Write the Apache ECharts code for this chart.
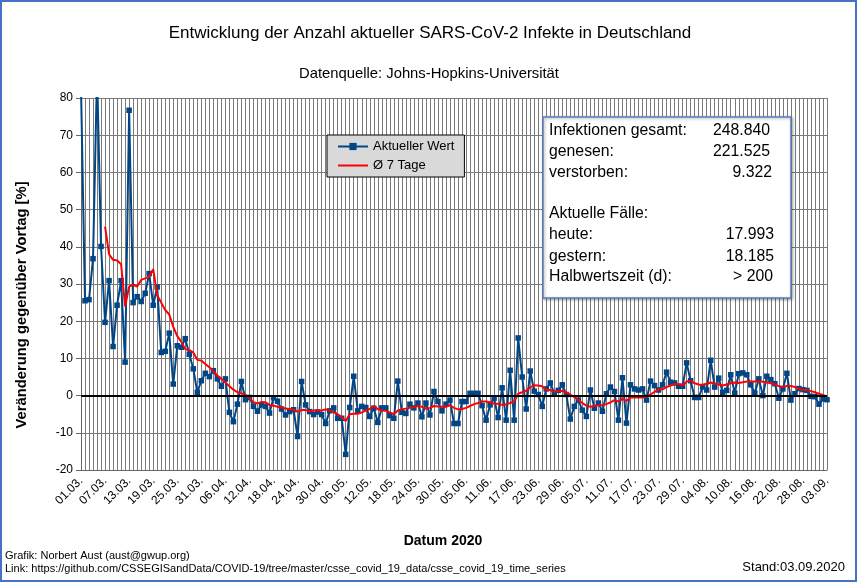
<!DOCTYPE html>
<html>
<head>
<meta charset="utf-8">
<script src="https://cdn.jsdelivr.net/npm/echarts@6/dist/echarts.min.js"></script>
<style>
html,body{margin:0;padding:0;background:#fff;}
#c{width:858px;height:583px;}
</style>
</head>
<body>
<div id="c"></div>
<script>
// ---- data ----
const startDay = { year: 2020, month: 2, day: 1 }; // 01.03.2020 (month 0-based)
const dayCount = 187;

const aktuellerWert = [
  83, 25.5, 25.8, 36.8, 87, 40.1, 19.7, 30.9, 13.2, 24.3,
  30.9, 9.0, 76.7, 25.0, 26.6, 25.3, 27.5, 32.8, 24.3, 29.2,
  11.6, 11.9, 16.8, 3.1, 13.4, 13.0, 15.3, 11.1, 7.2, 0.9,
  4.0, 6.0, 5.1, 6.7, 4.5, 2.5, 4.5, -4.5, -7.0, -2.3,
  3.8, -1.1, -0.5, -2.9, -4.2, -2.5, -2.9, -4.7, -0.6, -1.5,
  -3.6, -5.2, -4.3, -3.8, -11.0, 3.8, -2.5, -4.3, -5.1, -4.4,
  -5.1, -7.5, -4.1, -3.3, -6.1, -6.1, -15.8, -3.2, 5.2, -4.1,
  -2.9, -3.2, -5.6, -3.4, -7.2, -3.3, -3.3, -5.4, -6.1, 3.9,
  -4.5, -4.8, -2.3, -3.3, -2.0, -5.7, -2.0, -5.2, 1.1, -1.6,
  -4.1, -2.3, -1.2, -7.5, -7.5, -1.6, -1.6, 0.6, 0.6, 0.6,
  -2.7, -6.6, -2.5, -0.7, -5.9, 2.1, -6.6, 6.8, -6.6, 15.5,
  5.0, -3.6, 6.6, 1.2, 0.3, -2.9, 1.8, 3.4, 0.6, 1.4,
  2.9, 0.3, -6.3, -2.9, -1.2, -3.9, -5.6, 1.5, -3.4, -2.0,
  -4.2, 0.5, 2.3, 1.1, -6.6, 4.8, -7.4, 2.9, 1.8, 1.5,
  1.8, -1.2, 3.9, 2.7, 1.5, 2.9, 6.3, 3.6, 3.4, 2.5,
  2.5, 8.8, 4.0, -0.5, -0.5, 2.3, 1.5, 9.5, 2.3, 4.7,
  0.9, 1.4, 5.6, 0.7, 5.9, 6.1, 5.6, 2.9, 0.7, 4.5,
  0.0, 5.2, 4.3, 3.2, -0.7, 1.8, 6.0, -1.2, 0.5, 1.9,
  1.6, 1.4, -0.2, -0.3, -2.3, -0.9, -1.1
];

const mittel7Tage = [
  '-', '-', '-', '-', '-', '-', 45.4, 38.0, 36.5, 36.3,
  35.3, 24.0, 29.3, 29.8, 29.3, 31.1, 31.5, 32.0, 34.0, 27.0,
  25.0, 23.0, 21.8, 18.5, 16.0, 14.5, 12.5, 12.2, 11.6, 9.6,
  9.4, 8.5, 7.6, 6.6, 5.4, 4.5, 3.5, 2.5, 1.6, 0.9,
  0.6, 0.2, -0.6, -1.8, -2.1, -1.7, -1.8, -2.5, -2.7, -3.0,
  -3.2, -3.5, -3.6, -3.8, -4.3, -3.9, -3.9, -4.2, -4.0, -4.0,
  -4.0, -3.7, -4.0, -4.5, -5.0, -5.8, -6.8, -5.0, -4.9, -4.9,
  -4.5, -4.0, -3.6, -2.8, -3.6, -4.0, -4.1, -4.5, -5.0, -4.0,
  -3.7, -3.5, -3.3, -3.0, -2.8, -3.0, -3.5, -3.3, -2.8, -2.9,
  -3.0, -3.0, -2.6, -3.3, -3.7, -3.6, -3.3, -2.8, -2.3, -2.0,
  -1.6, -1.6, -1.8, -2.2, -2.2, -2.5, -2.3, -2.0, -1.6, 0.5,
  0.9, 1.3, 2.2, 2.8, 2.7, 2.5, 1.5, 1.5, 1.0, 1.2,
  1.3, 0.8, 0.3, -0.4, -1.2, -2.0, -2.7, -3.0, -2.8, -2.6,
  -2.6, -2.3, -1.8, -1.2, -1.6, -0.9, -1.4, -0.5, -0.5, -0.5,
  -0.5, -0.3, 0.3, 1.0, 1.7, 1.7, 2.3, 2.7, 3.1, 3.1,
  2.7, 3.8, 4.0, 3.3, 3.0, 2.9, 3.2, 3.5, 3.2, 3.0,
  2.7, 3.0, 3.3, 3.5, 3.4, 3.6, 3.8, 3.8, 3.8, 3.8,
  3.7, 3.5, 3.3, 3.0, 2.5, 2.4, 2.6, 2.6, 2.3, 1.8,
  1.6, 1.5, 1.2, 0.9, 0.5, 0.2, -0.3
];

const yTicks = { min: -20, max: 80, interval: 10 };

const infoLabels = ['Infektionen gesamt:', 'genesen:', 'verstorben:', 'Aktuelle Fälle:', 'heute:', 'gestern:', 'Halbwertszeit (d):'];
const infoValues = ['248.840', '221.525', '9.322', '', '17.993', '18.185', '> 200'];

// ---- categories (dates) ----
const categories = [];
for (let i = 0; i < dayCount; i++) {
  const d = new Date(startDay.year, startDay.month, startDay.day + i);
  const dd = String(d.getDate()).padStart(2, '0');
  const mm = String(d.getMonth() + 1).padStart(2, '0');
  categories.push(dd + '.' + mm + '.');
}

const FONT = '"Liberation Sans", Arial, sans-serif';
const chart = echarts.init(document.getElementById('c'), null, { renderer: 'canvas' });

// info box graphics
const infoY = [131, 152, 173, 214, 235, 256.5, 277];
const infoRight = [770, 770, 772, 772, 774, 774, 773];
const infoEls = [];
infoLabels.forEach((t, i) => {
  infoEls.push({
    type: 'text', z: 101,
    style: { text: t, x: 549, y: infoY[i], font: '15.8px ' + FONT, fill: '#000',
      align: 'left', verticalAlign: 'middle', textAlign: 'left', textVerticalAlign: 'middle' }
  });
  if (infoValues[i]) {
    infoEls.push({
      type: 'text', z: 101,
      style: { text: infoValues[i], x: infoRight[i], y: infoY[i], font: '15.8px ' + FONT, fill: '#000',
        align: 'right', verticalAlign: 'middle', textAlign: 'right', textVerticalAlign: 'middle' }
    });
  }
});

function txt(t, x, y, font, align, rot) {
  return {
    type: 'text', x: x, y: y, rotation: rot || 0, z: 100,
    style: { text: t, x: 0, y: 0, font: font, fill: '#000',
      align: align, verticalAlign: 'middle', textAlign: align, textVerticalAlign: 'middle' }
  };
}

const option = {
  animation: false,
  backgroundColor: '#fff',
  grid: { left: 81, right: 31, top: 98, bottom: 113, containLabel: false },
  legend: {
    left: 327, top: 135, orient: 'vertical',
    backgroundColor: '#d9d9d9', borderColor: '#000', borderWidth: 1,
    padding: [4, 10, 4, 10], itemGap: 4, itemWidth: 30, itemHeight: 9,
    textStyle: { fontFamily: FONT, fontSize: 13, color: '#000', lineHeight: 15 },
    data: [
      { name: 'Aktueller Wert' },
      { name: 'Ø 7 Tage', itemStyle: { opacity: 0 } }
    ]
  },
  xAxis: {
    type: 'category', data: categories, boundaryGap: false,
    axisLine: { onZero: false, lineStyle: { color: '#666', width: 1 } },
    axisTick: { show: false },
    axisLabel: { interval: 5, rotate: 45, fontFamily: FONT, fontSize: 12, color: '#000', margin: 9 },
    splitLine: { show: true, interval: 0, lineStyle: { color: '#7a7a7a', width: 1 } }
  },
  yAxis: {
    type: 'value', min: yTicks.min, max: yTicks.max, interval: yTicks.interval,
    axisLine: { show: true, lineStyle: { color: '#666', width: 1 } },
    axisTick: { show: true, length: 5, lineStyle: { color: '#666' } },
    axisLabel: { fontFamily: FONT, fontSize: 12, color: '#000', margin: 8 },
    splitLine: { show: true, lineStyle: { color: '#7a7a7a', width: 1 } }
  },
  series: [
    {
      name: 'Aktueller Wert', type: 'line', data: aktuellerWert,
      symbol: 'rect', symbolSize: 5.5, showAllSymbol: true, clip: true,
      itemStyle: { color: '#004586' },
      lineStyle: { color: '#004586', width: 2 },
      markLine: {
        silent: true, symbol: 'none', label: { show: false },
        lineStyle: { color: '#000', width: 2, type: 'solid' },
        data: [{ yAxis: 0 }]
      },
      z: 3
    },
    {
      name: 'Ø 7 Tage', type: 'line', data: mittel7Tage,
      symbol: 'none', clip: true,
      itemStyle: { color: '#ff0000' },
      lineStyle: { color: '#ff0000', width: 2 },
      z: 4
    }
  ],
  graphic: [
    { type: 'rect', z: 200, silent: true,
      shape: { x: 1, y: 1, width: 855, height: 580 },
      style: { fill: 'none', stroke: '#4472c4', lineWidth: 2 } },
    txt('Entwicklung der Anzahl aktueller SARS-CoV-2 Infekte in Deutschland', 430, 33, '17px ' + FONT, 'center'),
    txt('Datenquelle: Johns-Hopkins-Universität', 429, 74, '14.8px ' + FONT, 'center'),
    txt('Veränderung gegenüber Vortag [%]', 22, 305, 'bold 14.8px ' + FONT, 'center', Math.PI / 2),
    txt('Datum 2020', 443, 541, 'bold 14px ' + FONT, 'center'),
    txt('Grafik: Norbert Aust (aust@gwup.org)', 5, 556, '11px ' + FONT, 'left'),
    txt('Link: https://github.com/CSSEGISandData/COVID-19/tree/master/csse_covid_19_data/csse_covid_19_time_series', 5, 569, '11px ' + FONT, 'left'),
    txt('Stand:03.09.2020', 845, 567, '13px ' + FONT, 'right'),
    { type: 'rect', z: 100, silent: true,
      shape: { x: 543, y: 117, width: 248, height: 181 },
      style: { fill: '#fff', stroke: '#5b7fc0', lineWidth: 1.5,
        shadowBlur: 3, shadowOffsetX: 1, shadowOffsetY: 1, shadowColor: 'rgba(0,0,0,0.35)' } }
  ].concat(infoEls)
};

chart.setOption(option);
</script>
</body>
</html>
